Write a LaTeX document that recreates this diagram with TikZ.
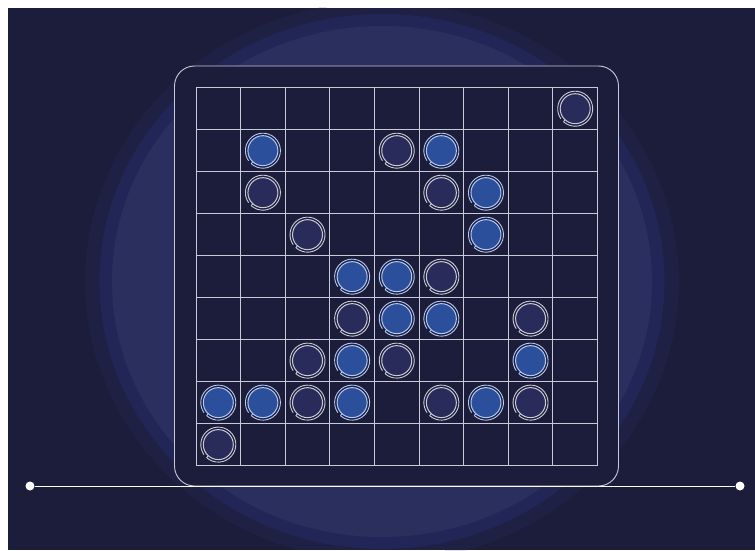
\documentclass[tikz,border=0pt]{standalone}
\usetikzlibrary{calc}
\definecolor{bgc}{HTML}{1B1D3A}
\definecolor{glowA}{HTML}{1E2143}
\definecolor{glowB}{HTML}{222657}
\definecolor{glowC}{HTML}{2A2F5E}
\definecolor{linec}{HTML}{C9CAD8}
\definecolor{bluefill}{HTML}{2C4F9B}
\definecolor{bluering}{HTML}{B4C9F4}
\definecolor{darkfill}{HTML}{292C5A}
\definecolor{darkring}{HTML}{CBCBD8}
\begin{document}
\begin{tikzpicture}[x=1pt,y=1pt,
  boardbox/.style={draw=linec, line width=0.9pt, fill=bgc, rounded corners=20pt, minimum width=444pt, minimum height=420pt, inner sep=0pt},
  gridline/.style={draw=linec, line width=0.8pt},
  stoneb/.style={circle, fill=bluefill, draw=bluering, line width=1pt, minimum size=30pt, inner sep=0pt},
  stoned/.style={circle, fill=darkfill, draw=darkring, line width=1pt, minimum size=30pt, inner sep=0pt},
  ringb/.style={draw=bluering, line width=0.9pt},
  ringd/.style={draw=darkring, line width=0.9pt},
  enddot/.style={circle, fill=white, minimum size=9pt, inner sep=0pt},
  hline/.style={draw=white, line width=1pt}]
\useasboundingbox (0,0) rectangle (755,550);
\fill[white] (0,0) rectangle (755,550);
\fill[bgc] (8,0) rectangle (755,542);
% outer glow, cut at top (y=542) and bottom (y=0)
\fill[glowA] ({382+297*cos(-asin(268.5/280))},0)
  arc[start angle={-asin(268.5/280)}, end angle={asin(273.5/280)}, x radius=297, y radius=280]
  -- ({382-297*cos(asin(273.5/280))},542)
  arc[start angle={180-asin(273.5/280)}, end angle={180+asin(268.5/280)}, x radius=297, y radius=280]
  -- cycle;
\fill[glowB] (382,268.5) ellipse[x radius=282.5, y radius=267.5];
\fill[glowC] (382,268.5) ellipse[x radius=270, y radius=255.5];
% board
\node[boardbox] (board) at (396.5,274) {};
% grid
\foreach \i in {0,...,9} {
  \draw[gridline] ({196+44.61*\i},84.4) -- ({196+44.61*\i},462.3);
  \draw[gridline] (196,{462.3-41.99*\i}) -- (597.5,{462.3-41.99*\i});
}
% baseline
\node[enddot] (lend) at (30,64) {};
\node[enddot] (rend) at (740,64) {};
\draw[hline] (lend) -- (rend);
% stones
\foreach \r/\c/\t in {0/8/d,
  1/1/b,1/4/d,1/5/b,
  2/1/d,2/5/d,2/6/b,
  3/2/d,3/6/b,
  4/3/b,4/4/b,4/5/d,
  5/3/d,5/4/b,5/5/b,5/7/d,
  6/2/d,6/3/b,6/4/d,6/7/b,
  7/0/b,7/1/b,7/2/d,7/3/b,7/5/d,7/6/b,7/7/d,
  8/0/d} {
  \node[stone\t] (st-\r-\c) at ({196+44.61*(\c+0.5)},{462.3-41.99*(\r+0.5)}) {};
  \draw[ring\t] ([shift={(228:17.5)}]st-\r-\c.center) arc[start angle=228, end angle=575, radius=17.5];
  \draw[ring\t] ([shift={(228:17.5)}]st-\r-\c.center) -- ([shift={(228:15)}]st-\r-\c.center);
}
\end{tikzpicture}
\end{document}
